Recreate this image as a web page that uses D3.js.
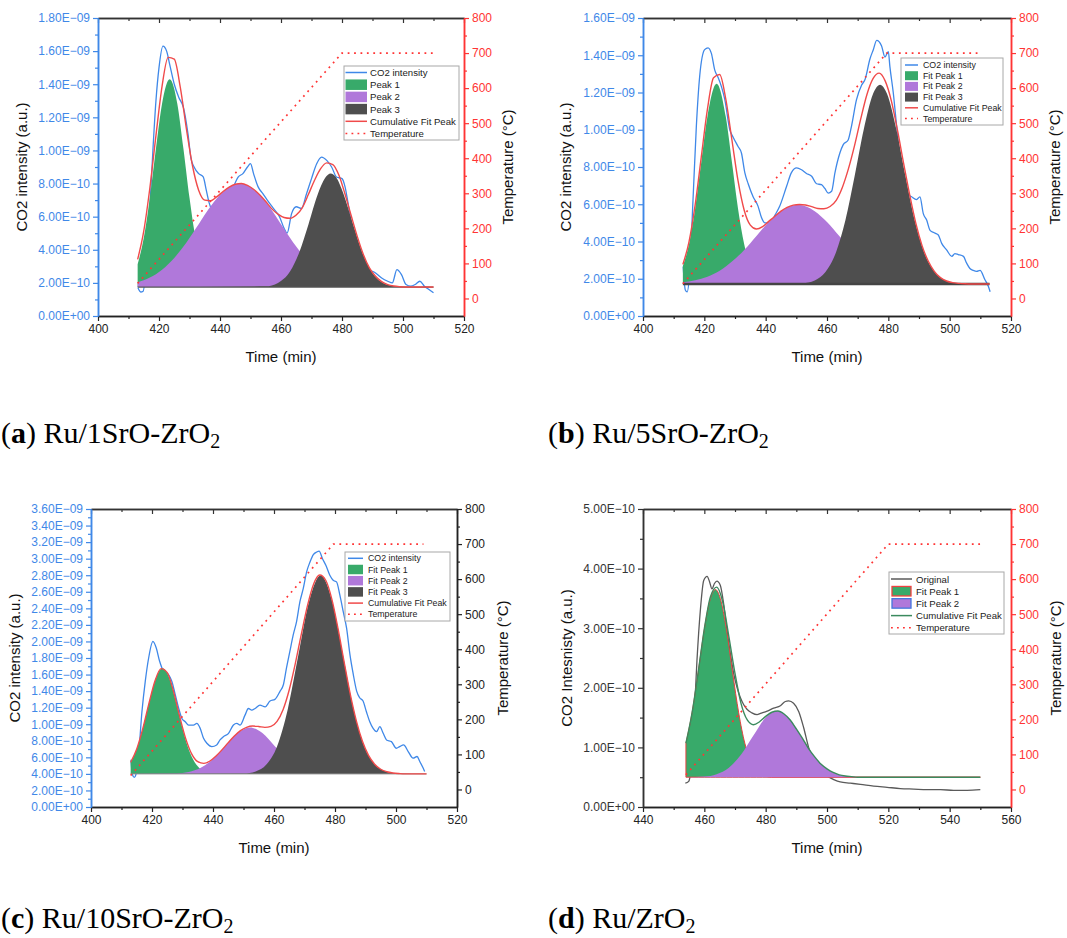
<!DOCTYPE html>
<html>
<head>
<meta charset="utf-8">
<script src="https://cdn.jsdelivr.net/npm/d3@7"></script>
<style>
  body { margin: 0; background: #fff; }
  .cap { font-family: "Liberation Serif", "Times New Roman", serif; }
</style>
</head>
<body>
<svg id="fig" width="1067" height="938"></svg>
<script>
// CO2 values are kept in units of 1e-10 (a.u.), temperatures in °C, times in min

// ---- panel (a) Ru/1SrO-ZrO2 ----
const rawA = [[413.1,1.7],[414.0,1.45],[414.8,1.5],[416.0,3.5],[417.0,6.5],[418.0,10.0],[419.0,13.0],[420.0,15.0],[421.3,16.3],[422.5,16.0],[423.5,15.2],[425.0,14.0],[426.5,13.2],[428.0,12.6],[429.5,11.0],[430.5,9.5],[431.5,9.0],[433.0,8.6],[434.5,8.4],[435.5,7.6],[436.5,6.8],[438,6.2],[440,6.0],[442,6.6],[444,7.6],[446,8.4],[447.5,8.6],[449,9.0],[450,9.2],[451,8.6],[452.5,7.8],[454,7.4],[455.5,7.0],[457.5,6.5],[459.5,6.0],[461,5.3],[462,5.0],[463.5,6.2],[465,6.6],[466.7,6.5],[468.4,7.4],[470,8.3],[471.7,9.2],[473.3,9.6],[475,9.4],[476.6,9.0],[478.2,8.4],[480,8.3],[481,7.8],[482,6.8],[483.5,5.2],[485,4.2],[487,3.3],[489,2.8],[491,2.6],[493,2.3],[495,2.1],[496.5,2.0],[498,2.8],[499.5,2.5],[501,1.9],[502.5,1.8],[504,1.9],[505.5,2.1],[507,1.8],[508.5,1.6],[510,1.4]];
const pkA1 = [[413,3.13],[415,4.71],[417,7.15],[419,10.12],[421,12.82],[423.5,14.30],[426,12.82],[428,10.12],[430,7.15],[432,4.71],[434,3.13],[436,2.30],[438,1.94],[440,1.80],[443,1.75],[510,1.75]];
const pkA2 = [[413,2.04],[417,2.32],[421,2.80],[425,3.51],[429,4.44],[433,5.54],[437,6.64],[441,7.50],[446.5,8.00],[452,7.50],[456,6.64],[460,5.54],[464,4.44],[468,3.51],[472,2.80],[476,2.32],[480,2.04],[484,1.88],[490,1.79],[496,1.75],[510,1.75]];
const pkA3 = [[413,1.75],[455,1.79],[459,2.00],[463,2.70],[466,3.85],[469,5.53],[472,7.33],[474.5,8.35],[476.3,8.60],[478,8.39],[480.5,7.37],[483.5,5.61],[486.5,3.91],[489.5,2.74],[493.5,2.00],[497.5,1.80],[502,1.75],[510,1.75]];
const fitTimeA = [413,415,417,419,421,423,425,427,429,431,433,435,437,439,441,443,445,447,449,451,453,455,457,459,461,463,465,467,469,471,473,475,477,479,481,483,485,487,489,491,493,495,497,499,501,503,505,507,509,510];
const cumA = [3.42,5.12,7.73,10.90,13.87,15.62,15.51,13.79,11.29,9.06,
  7.60,7.00,6.97,7.21,7.52,7.79,7.96,8.00,7.89,7.66,
  7.33,6.92,6.47,6.15,5.95,5.90,6.10,6.55,7.35,8.20,
  8.90,9.25,9.15,8.50,7.35,6.07,4.81,3.72,2.91,2.40,
  2.08,1.90,1.81,1.77,1.75,1.75,1.75,1.75,1.75,1.75];
const tempA = [[413,43],[480,700],[510,700]];
const baseA = 1.75;

// ---- panel (b) Ru/5SrO-ZrO2 ----
const rawB = [[413.1,2.65],[413.8,1.4],[414.4,1.3],[415.2,2.3],[416.3,6.2],[417.4,10.2],[418.5,12.9],[420.1,14.3],[421.2,14.4],[422.3,14.1],[423.4,13.2],[424.5,12.8],[425.6,12.3],[426.7,11.6],[428.3,10.0],[429.4,9.6],[431.0,9.1],[432.1,8.75],[433.2,7.7],[434.3,7.1],[435.9,6.4],[437.5,5.9],[438.6,5.3],[439.7,5.0],[441.5,5.0],[443,5.4],[444.6,5.9],[446.8,6.95],[448.4,7.7],[450.1,7.95],[451.7,7.85],[453.3,7.65],[455.0,7.5],[456.6,7.1],[458.2,7.05],[459.3,6.85],[460.4,6.6],[461.5,6.7],[462.6,7.7],[464.2,8.75],[465.3,9.2],[466.9,9.45],[468.0,10.2],[469.6,11.6],[471.3,12.4],[472.4,12.7],[474.0,13.8],[475.1,14.3],[476.2,14.8],[477.8,14.5],[478.9,13.9],[480.0,14.2],[480.5,13.4],[481.6,12.0],[482.7,10.2],[483.8,8.4],[484.9,7.3],[486.0,6.6],[487.6,6.4],[489.2,6.25],[490.3,6.4],[491.4,5.5],[492.5,5.15],[493.6,4.6],[495.2,4.45],[496.3,4.35],[497.4,3.9],[499.0,3.55],[500.7,3.2],[501.7,3.35],[502.8,3.3],[504.5,3.2],[505.5,2.85],[506.6,2.55],[507.7,2.45],[508.8,2.4],[509.9,2.45],[511.5,1.95],[512.6,1.6],[513.2,1.3]];
const pkB1 = [[413,2.68],[415,3.85],[417,5.75],[419,8.25],[421,10.70],[424,12.47],[427,10.70],[429,8.25],[431,5.75],[433,3.85],[435,2.68],[437,2.09],[439,1.84],[441,1.75],[445,1.72],[513,1.72]];
const pkB2 = [[413,1.81],[417,1.92],[421,2.11],[425,2.43],[429,2.92],[433,3.55],[437,4.30],[441,5.05],[445,5.63],[450.5,5.97],[456,5.63],[460,5.05],[464,4.30],[468,3.55],[472,2.92],[476,2.43],[480,2.11],[484,1.92],[488,1.81],[494,1.75],[500,1.72],[513,1.72]];
const pkB3 = [[413,1.72],[452,1.76],[456,1.91],[459.5,2.36],[463,3.45],[466,5.14],[469,7.50],[472,10.03],[475,11.92],[477.3,12.42],[479.6,11.92],[482.6,10.03],[485.6,7.50],[488.6,5.14],[491.6,3.45],[495.1,2.36],[498.6,1.91],[502.6,1.76],[507,1.72],[513,1.72]];
const fitTimeB = [413,415,417,419,421,423,425,427,429,431,433,435,437,439,441,443,445,447,449,451,453,455,457,459,461,463,465,467,469,471,473,475,477,479,481,483,485,487,489,491,493,495,497,499,501,503,505,507,509,511,513];
const cumB = [2.77,3.98,5.95,8.53,11.09,12.79,12.97,11.64,9.45,7.25,
  5.68,4.88,4.67,4.80,5.08,5.36,5.63,5.83,5.95,5.99,
  5.96,5.87,5.77,5.76,5.88,6.21,6.90,7.91,9.16,10.58,
  11.88,12.74,13.04,12.61,11.54,9.96,8.18,6.48,4.96,3.78,
  2.95,2.40,2.06,1.88,1.79,1.75,1.73,1.72,1.72,1.72,1.72];
const tempB = [[413,42],[479.5,700],[509.5,700]];
const baseB = 1.72;

// ---- panel (c) Ru/10SrO-ZrO2 ----
const rawC = [[413.1,5.7],[413.6,3.9],[414.2,3.58],[414.7,3.9],[415.6,6.3],[416.7,11.5],[417.8,15.2],[418.9,18.0],[420.3,20.0],[421.4,19.2],[422.5,17.6],[423.8,16.4],[425.4,16.0],[426.5,15.2],[427.6,13.6],[428.7,12.0],[429.8,10.7],[430.9,10.3],[432.0,9.9],[433.6,9.9],[434.7,10.1],[435.8,9.5],[436.9,8.3],[438.0,7.7],[439.6,7.3],[441.2,7.5],[442.3,8.1],[443.4,8.5],[445.1,8.9],[446.7,9.9],[447.8,10.1],[448.9,9.9],[450.5,11.1],[451.6,11.9],[452.7,11.7],[453.8,11.9],[455.4,12.3],[457.1,12.1],[458.7,12.8],[460.3,13.0],[462.0,14.0],[463.1,14.8],[464.1,16.8],[465.2,18.8],[466.3,20.8],[467.4,22.4],[468.5,24.8],[469.6,26.4],[470.7,28.4],[471.8,29.6],[472.9,30.5],[474.0,30.8],[474.8,30.9],[475.9,30.0],[477.0,29.2],[478.3,28.0],[479.4,27.4],[480.5,27.2],[481.6,25.6],[482.7,23.6],[483.8,21.6],[484.9,18.4],[486.0,16.0],[487.1,14.0],[488.1,13.2],[489.2,12.8],[490.3,11.5],[491.4,10.3],[492.5,9.5],[493.6,9.1],[494.7,9.7],[495.8,8.9],[496.9,8.1],[498.5,7.9],[500.1,7.1],[501.2,7.3],[502.5,7.5],[504.0,6.7],[505.6,5.9],[506.9,6.1],[507.8,5.5],[508.9,4.7],[509.4,4.3]];
const pkC1 = [[413,5.40],[415,7.01],[417,9.49],[419,12.52],[421,15.26],[423.5,16.77],[426,15.26],[428,12.52],[430,9.49],[432,7.01],[434,5.40],[436,4.56],[438,4.19],[440,4.05],[443,4.00],[510,4.00]];
const pkC2 = [[413,4.00],[428,4.06],[432,4.24],[436,4.74],[440,5.80],[444,7.37],[448,8.93],[452.1,9.61],[456.2,8.93],[460.2,7.37],[464.2,5.80],[468.2,4.74],[472.2,4.24],[476.2,4.06],[482,4.00],[510,4.00]];
const pkC3 = [[413,4.00],[450,4.05],[454,4.30],[457.5,5.13],[461,7.31],[464.5,11.79],[468,18.38],[471.5,24.82],[475.3,27.96],[479.1,24.82],[482.6,18.38],[486.1,11.79],[489.6,7.31],[493.1,5.13],[496.6,4.30],[500.6,4.05],[505,4.00],[510,4.00]];
const fitTimeC = [413,415,417,419,421,423,425,427,429,431,433,435,437,439,441,443,445,447,449,451,453,455,457,459,461,463,465,467,469,471,473,475,477,479,481,483,485,487,489,491,493,495,497,499,501,503,505,507,509,510];
const cumC = [5.40,7.01,9.49,12.52,15.26,16.72,16.23,14.04,11.05,8.32,
  6.42,5.48,5.27,5.56,6.16,6.93,7.78,8.58,9.23,9.63,
  9.78,9.72,9.62,9.74,10.34,11.78,14.16,17.35,20.95,24.36,
  26.95,28.03,27.36,25.06,21.54,17.51,13.63,10.40,7.93,6.23,
  5.17,4.56,4.26,4.11,4.04,4.00,4.00,4.00,4.00,4.00];
const tempC = [[413,40],[479.5,700],[509,700]];
const baseC = 4.0;

// ---- panel (d) Ru/ZrO2 ----
const rawD = [[453.8,0.40],[454.9,0.43],[455.4,0.54],[456.5,1.33],[457.6,2.46],[458.7,3.30],[459.8,3.80],[460.9,3.87],[461.7,3.78],[462.5,3.66],[463.3,3.75],[464.1,3.79],[465.2,3.72],[466.3,3.41],[467.4,2.96],[468.5,2.57],[469.6,2.23],[470.7,2.00],[471.7,1.84],[472.8,1.72],[473.9,1.64],[475.5,1.58],[477.2,1.55],[478.3,1.57],[480.5,1.61],[482.6,1.66],[484.8,1.70],[486.4,1.77],[487.5,1.78],[489.1,1.74],[490.8,1.60],[492.4,1.33],[494.0,1.00],[495.7,0.77],[497.8,0.60],[500.0,0.52],[502.2,0.46],[504.3,0.42],[507.6,0.40],[510.9,0.38],[515.2,0.35],[519.6,0.33],[523.9,0.31],[528.3,0.30],[532.6,0.29],[537.0,0.29],[541.3,0.28],[545.7,0.28],[550.0,0.29]];
const pkD1 = [[454,1.07],[456,1.58],[458,2.26],[460,2.98],[462,3.50],[463.6,3.65],[465.2,3.50],[467.2,2.98],[469.2,2.26],[471.2,1.58],[473.2,1.07],[475,0.79],[477,0.61],[479,0.54],[482,0.50],[550,0.50]];
const pkD2 = [[454,0.50],[460,0.51],[464,0.55],[468,0.66],[472,0.88],[476,1.20],[480,1.50],[483.7,1.61],[487.4,1.50],[491.4,1.20],[495.4,0.88],[499.4,0.66],[503.4,0.55],[507.4,0.51],[512,0.50],[550,0.50]];
const fitTimeD = [454,456,458,460,462,464,466,468,470,472,474,476,478,480,482,484,486,488,490,492,494,496,498,500,502,504,506,508,510,512,514,516,518,520,522,524,526,528,530,532,534,536,538,540,542,544,546,548,550];
const cumD = [1.07,1.58,2.26,2.99,3.53,3.69,3.44,2.86,2.24,1.73,
  1.46,1.38,1.43,1.52,1.59,1.61,1.56,1.46,1.31,1.15,
  0.98,0.84,0.72,0.64,0.58,0.54,0.52,0.51,0.50,0.50,
  0.50,0.50,0.50,0.50,0.50,0.50,0.50,0.50,0.50,0.50,
  0.50,0.50,0.50,0.50,0.50,0.50,0.50,0.50,0.50];
const tempD = [[454,42],[520,700],[550,700]];
const baseD = 0.5;

// ---- ticks, legends, captions ----
const xTicks1 = [400,420,440,460,480,500,520];
const xMinor1 = [410,430,450,470,490,510];
const xTicks2 = [440,460,480,500,520,540,560];
const xMinor2 = [450,470,490,510,530,550];
const yTicksA = [0,2,4,6,8,10,12,14,16,18];
const yMinorA = [1,3,5,7,9,11,13,15,17];
const yTicksB = [0,2,4,6,8,10,12,14,16];
const yMinorB = [1,3,5,7,9,11,13,15];
const yTicksC = [0,2,4,6,8,10,12,14,16,18,20,22,24,26,28,30,32,34,36];
const yMinorC = [1,3,5,7,9,11,13,15,17,19,21,23,25,27,29,31,33,35];
const yTicksD = [0,1,2,3,4,5];
const yMinorD = [0.5,1.5,2.5,3.5,4.5];
const tempTicks = [0,100,200,300,400,500,600,700,800];
const tempMinor = [50,150,250,350,450,550,650,750];

const legendA = ['CO2 intensity','Peak 1','Peak 2','Peak 3','Cumulative Fit Peak','Temperature'];
const legendBC = ['CO2 intensity','Fit Peak 1','Fit Peak 2','Fit Peak 3','Cumulative Fit Peak','Temperature'];
const legendD = ['Original','Fit Peak 1','Fit Peak 2','Cumulative Fit Peak','Temperature'];

const capLetters = ['a','b','c','d'];
const capNames = ['Ru/1SrO-ZrO','Ru/5SrO-ZrO','Ru/10SrO-ZrO','Ru/ZrO'];

const FONT = '"Liberation Sans", Arial, sans-serif';
const BLUE = '#3f88e8';
const RED = '#ff3434';
const FITRED = '#f04a4a';
const GREEN = '#38aa6a';
const PURPLE = '#b078da';
const DARK = '#4e4e4e';
const GRAY = '#5a5a5a';
const FITGREEN = '#3b8a5e';

const svg = d3.select('#fig');

function sci(v) {
  const x = v * 1e-10;
  if (x === 0) return '0.00E+00';
  const e = Math.floor(Math.log10(x) + 1e-9);
  const m = x / Math.pow(10, e);
  return m.toFixed(2) + 'E' + (e < 0 ? '\u2212' : '+') + String(Math.abs(e)).padStart(2, '0');
}

const sw = {
  blue: {type: 'line', color: BLUE},
  gray: {type: 'line', color: GRAY},
  green: {type: 'rect', fill: GREEN},
  purple: {type: 'rect', fill: PURPLE},
  dark: {type: 'rect', fill: DARK},
  greenRed: {type: 'rect', fill: GREEN, stroke: '#f04040'},
  purpleBlue: {type: 'rect', fill: PURPLE, stroke: '#4477dd'},
  fit: {type: 'line', color: FITRED},
  fitGreen: {type: 'line', color: FITGREEN},
  temp: {type: 'dots', color: RED}
};

const panels = [
  {x0: 98, x1: 464, y0: 18, y1: 316, xDomain: [400, 520], xTicks: xTicks1, xMinor: xMinor1,
   yMax: 18, yTicks: yTicksA, yMinor: yMinorA, leftColor: BLUE, rightColor: RED,
   raw: rawA, rawColor: BLUE, peaks: [pkA1, pkA2, pkA3], fills: [GREEN, PURPLE, DARK],
   fit: d3.zip(fitTimeA, cumA), fitColor: FITRED, temp: tempA, base: baseA, baseStroke: ['#555', 1.2],
   yTitle: 'CO2 intensity (a.u.)', yTitleX: 21, rTitleX: 507, xTitleY: 356,
   legend: {x: 344, y: 66, w: 115, h: 74, first: 6.5, step: 12.2, sx: 345.5, sw: 21.5, sh: 10.5, tx: 370, font: 9.6},
   labels: legendA, swatches: [sw.blue, sw.green, sw.purple, sw.dark, sw.fit, sw.temp]},
  {x0: 643, x1: 1011, y0: 18, y1: 316, xDomain: [400, 520], xTicks: xTicks1, xMinor: xMinor1,
   yMax: 16, yTicks: yTicksB, yMinor: yMinorB, leftColor: BLUE, rightColor: RED,
   raw: rawB, rawColor: BLUE, peaks: [pkB1, pkB2, pkB3], fills: [GREEN, PURPLE, DARK],
   fit: d3.zip(fitTimeB, cumB), fitColor: FITRED, temp: tempB, base: baseB, baseStroke: ['#444', 2.6],
   yTitle: 'CO2 intensity (a.u.)', yTitleX: 565, rTitleX: 1054, xTitleY: 356,
   legend: {x: 901, y: 58, w: 102, h: 67, first: 7, step: 10.7, sx: 905, sw: 13, sh: 9, tx: 923, font: 8.8},
   labels: legendBC, swatches: [sw.blue, sw.green, sw.purple, sw.dark, sw.fit, sw.temp]},
  {x0: 91, x1: 457, y0: 509, y1: 807, xDomain: [400, 520], xTicks: xTicks1, xMinor: xMinor1,
   yMax: 36, yTicks: yTicksC, yMinor: yMinorC, leftColor: BLUE, rightColor: '#222',
   raw: rawC, rawColor: BLUE, peaks: [pkC1, pkC2, pkC3], fills: [GREEN, PURPLE, DARK],
   fit: d3.zip(fitTimeC, cumC), fitColor: FITRED, temp: tempC, base: baseC, baseStroke: ['#888', 1],
   yTitle: 'CO2 intensity (a.u.)', yTitleX: 14, rTitleX: 502, xTitleY: 847,
   legend: {x: 345, y: 552, w: 105, h: 69, first: 6.3, step: 11.2, sx: 348, sw: 15, sh: 9.5, tx: 368, font: 8.8},
   labels: legendBC, swatches: [sw.blue, sw.green, sw.purple, sw.dark, sw.fit, sw.temp]},
  {x0: 643, x1: 1011, y0: 509, y1: 807, xDomain: [440, 560], xTicks: xTicks2, xMinor: xMinor2,
   yMax: 5, yTicks: yTicksD, yMinor: yMinorD, leftColor: '#333', rightColor: RED,
   raw: rawD, rawColor: GRAY, peaks: [pkD1, pkD2], fills: [GREEN, PURPLE], strokes: ['#e84040', 'none'],
   fit: d3.zip(fitTimeD, cumD), fitColor: FITGREEN, temp: tempD, base: baseD, baseStroke: null,
   yTitle: 'CO2 Intesnisty (a.u.)', yTitleX: 566, rTitleX: 1055, xTitleY: 847,
   legend: {x: 889, y: 572, w: 115, h: 62, first: 7, step: 12.2, sx: 891, sw: 21, sh: 9.5, tx: 916, font: 9.6},
   labels: legendD, swatches: [sw.gray, sw.greenRed, sw.purpleBlue, sw.fitGreen, sw.temp]}
];

function drawPanel(p) {
  const g = svg.append('g');
  const x = d3.scaleLinear().domain(p.xDomain).range([p.x0, p.x1]);
  const y = d3.scaleLinear().domain([0, p.yMax]).range([p.y1, p.y0]);
  const yT = d3.scaleLinear().domain([-50, 800]).range([p.y1, p.y0]);

  const line = d3.line().x(d => x(d[0])).y(d => y(d[1])).curve(d3.curveMonotoneX);
  const area = d3.area().x(d => x(d[0])).y0(y(p.base)).y1(d => y(d[1])).curve(d3.curveMonotoneX);
  const tLine = d3.line().x(d => x(d[0])).y(d => yT(d[1]));

  // measured signal sits under the fitted peaks
  g.append('path').datum(p.raw).attr('d', line)
    .attr('fill', 'none').attr('stroke', p.rawColor).attr('stroke-width', 1.3);

  p.peaks.forEach((pk, i) => {
    g.append('path').datum(pk).attr('d', area)
      .attr('fill', p.fills[i])
      .attr('stroke', p.strokes ? p.strokes[i] : 'none')
      .attr('stroke-width', 1);
  });

  if (p.baseStroke) {
    g.append('line')
      .attr('x1', x(p.fit[0][0])).attr('x2', x(p.fit[p.fit.length - 1][0]))
      .attr('y1', y(p.base)).attr('y2', y(p.base))
      .attr('stroke', p.baseStroke[0]).attr('stroke-width', p.baseStroke[1]);
  }

  g.append('path').datum(p.fit).attr('d', line)
    .attr('fill', 'none').attr('stroke', p.fitColor).attr('stroke-width', 1.4);

  g.append('path').datum(p.temp).attr('d', tLine)
    .attr('fill', 'none').attr('stroke', RED).attr('stroke-width', 1.7)
    .attr('stroke-dasharray', '1.8,4.6');

  // axes
  const addAxis = (gen, tr, color) => {
    const a = g.append('g').attr('transform', tr).call(gen);
    a.attr('font-family', FONT).attr('font-size', 12).attr('color', color);
    a.select('.domain').attr('stroke-width', 1.5);
    a.selectAll('.tick line').attr('stroke-width', 1.2);
    return a;
  };
  const none = () => '';
  addAxis(d3.axisBottom(x).tickValues(p.xMinor).tickSize(3).tickSizeOuter(0).tickFormat(none), `translate(0,${p.y1})`, '#222');
  addAxis(d3.axisBottom(x).tickValues(p.xTicks).tickSize(5).tickSizeOuter(0), `translate(0,${p.y1})`, '#222');
  addAxis(d3.axisTop(x).tickValues(p.xMinor).tickSize(-3).tickSizeOuter(0).tickFormat(none), `translate(0,${p.y0})`, '#333');
  addAxis(d3.axisTop(x).tickValues(p.xTicks).tickSize(-5).tickSizeOuter(0).tickFormat(none), `translate(0,${p.y0})`, '#333');
  addAxis(d3.axisRight(yT).tickValues(tempMinor).tickSize(3).tickSizeOuter(0).tickFormat(none), `translate(${p.x1},0)`, p.rightColor);
  addAxis(d3.axisRight(yT).tickValues(tempTicks).tickSize(5).tickSizeOuter(0), `translate(${p.x1},0)`, p.rightColor);
  addAxis(d3.axisLeft(y).tickValues(p.yMinor).tickSize(3).tickSizeOuter(0).tickFormat(none), `translate(${p.x0},0)`, p.leftColor);
  addAxis(d3.axisLeft(y).tickValues(p.yTicks).tickSize(5).tickSizeOuter(0).tickFormat(sci), `translate(${p.x0},0)`, p.leftColor);

  // axis titles
  const midY = (p.y0 + p.y1) / 2;
  g.append('text').attr('x', (p.x0 + p.x1) / 2).attr('y', p.xTitleY)
    .attr('text-anchor', 'middle').attr('dominant-baseline', 'central')
    .attr('font-family', FONT).attr('font-size', 15).attr('fill', '#111').text('Time (min)');
  g.append('text').attr('transform', `translate(${p.yTitleX},${midY}) rotate(-90)`)
    .attr('text-anchor', 'middle').attr('dominant-baseline', 'central')
    .attr('font-family', FONT).attr('font-size', 15).attr('fill', '#111').text(p.yTitle);
  g.append('text').attr('transform', `translate(${p.rTitleX},${midY}) rotate(-90)`)
    .attr('text-anchor', 'middle').attr('dominant-baseline', 'central')
    .attr('font-family', FONT).attr('font-size', 15).attr('fill', '#111').text('Temperature (\u00b0C)');

  // legend
  const L = p.legend;
  const lg = g.append('g');
  lg.append('rect').attr('x', L.x).attr('y', L.y).attr('width', L.w).attr('height', L.h)
    .attr('fill', '#fff').attr('stroke', '#a8a8a8').attr('stroke-width', 1);
  p.labels.forEach((lab, i) => {
    const cy = L.y + L.first + i * L.step;
    const s = p.swatches[i];
    if (s.type === 'rect') {
      lg.append('rect').attr('x', L.sx + (s.stroke ? 1 : 0)).attr('y', cy - L.sh / 2)
        .attr('width', L.sw - (s.stroke ? 2 : 0)).attr('height', L.sh)
        .attr('fill', s.fill).attr('stroke', s.stroke || 'none').attr('stroke-width', 1.3);
    } else {
      lg.append('line').attr('x1', L.sx).attr('x2', L.sx + L.sw).attr('y1', cy).attr('y2', cy)
        .attr('stroke', s.color).attr('stroke-width', 1.5)
        .attr('stroke-dasharray', s.type === 'dots' ? '1.8,4.2' : null);
    }
    lg.append('text').attr('x', L.tx).attr('y', cy).attr('dominant-baseline', 'central')
      .attr('font-family', FONT).attr('font-size', L.font).attr('fill', '#222').text(lab);
  });
}

panels.forEach(drawPanel);

// sub-figure captions
const capPos = [[1, 443], [548, 443], [1, 928], [548, 928]];
capLetters.forEach((c, i) => {
  const t = svg.append('text').attr('class', 'cap')
    .attr('x', capPos[i][0]).attr('y', capPos[i][1])
    .attr('font-size', 30).attr('fill', '#000');
  t.append('tspan').text('(');
  t.append('tspan').attr('font-weight', 'bold').text(c);
  t.append('tspan').text(') ' + capNames[i]);
  t.append('tspan').attr('font-size', 20).attr('dy', 5).text('2');
});
</script>
</body>
</html>
